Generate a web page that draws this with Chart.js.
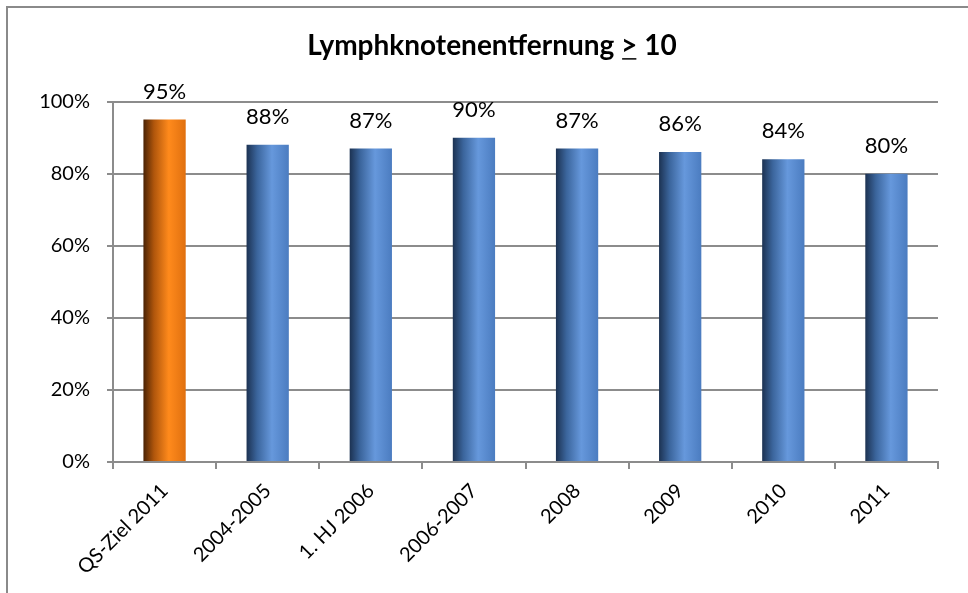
<!DOCTYPE html>
<html lang="de">
<head>
    <meta charset="UTF-8">
    <title>Lymphknotenentfernung</title>
    <script src="https://cdn.jsdelivr.net/npm/chart.js"></script>
    <style>
        body { margin: 0; background: #fff; }
        #wrap { position: relative; width: 968px; height: 593px; overflow: hidden; }
        #frame { position: absolute; left: 6px; top: 6px; width: 1000px; height: 1000px; border: 2px solid #8a8a8a; box-sizing: border-box; }
        canvas { position: absolute; left: 0; top: 0; }
    </style>
</head>
<body>
<div id="wrap">
    <div id="frame"></div>
    <canvas id="chart" width="968" height="593"></canvas>
</div>
<script>
    const categories = ['QS-Ziel 2011', '2004-2005', '1. HJ 2006', '2006-2007', '2008', '2009', '2010', '2011'];
    const values = [95, 88, 87, 90, 87, 86, 84, 80];
    const yTicks = [0, 20, 40, 60, 80, 100];

    const FONT = 'Lato, "Open Sans", sans-serif';
    const TITLE_SIZE = 28;
    const BAR_PCT = 0.41;

    // horizontal "cylinder" shading like the Excel bars
    function barFill(ctx) {
        const chart = ctx.chart;
        const x = chart.scales.x;
        const fallback = ctx.dataIndex === 0 ? '#f07a14' : '#4f81bd';
        if (!x || ctx.dataIndex === undefined) return fallback;
        const cx = x.getPixelForValue(ctx.dataIndex);
        const w = (x.width / categories.length) * BAR_PCT;
        if (!isFinite(cx) || !isFinite(w) || w <= 0) return fallback;
        const g = chart.ctx.createLinearGradient(cx - w / 2, 0, cx + w / 2, 0);
        if (ctx.dataIndex === 0) {
            g.addColorStop(0, '#4a2204');
            g.addColorStop(0.25, '#b0560c');
            g.addColorStop(0.6, '#ff8a1c');
            g.addColorStop(1, '#e0700f');
        } else {
            g.addColorStop(0, '#1c3252');
            g.addColorStop(0.25, '#3b659c');
            g.addColorStop(0.6, '#6698dc');
            g.addColorStop(1, '#4b7cc0');
        }
        return g;
    }

    const valueLabels = {
        id: 'valueLabels',
        afterDatasetsDraw(chart) {
            const c = chart.ctx;
            const meta = chart.getDatasetMeta(0);
            c.save();
            c.font = '22px ' + FONT;
            c.fillStyle = '#000';
            c.textAlign = 'center';
            c.textBaseline = 'middle';
            meta.data.forEach((bar, i) => {
                c.fillText(values[i] + '%', bar.x, bar.y - 28);
            });
            c.restore();
        }
    };

    // title is centred over the whole frame in the original, not over the plot
    const titleShift = {
        id: 'titleShift',
        afterLayout(chart) {
            const t = chart.titleBlock;
            if (!t) return;
            t.left = 16;
            t.right = chart.width;
            t.width = t.right - t.left;
        }
    };

    // underline the ">" of the title so it reads as "greater or equal"
    const titleUnderline = {
        id: 'titleUnderline',
        afterDraw(chart) {
            const t = chart.titleBlock;
            if (!t) return;
            const c = chart.ctx;
            const text = chart.options.plugins.title.text;
            c.save();
            c.font = 'bold ' + TITLE_SIZE + 'px ' + FONT;
            const full = c.measureText(text).width;
            const start = t.left + (t.width - full) / 2;
            const idx = text.indexOf('>');
            const pre = c.measureText(text.slice(0, idx)).width;
            const gw = c.measureText('>').width;
            const mid = t.top + t.options.padding.top + TITLE_SIZE * 1.2 / 2;
            const y = mid + TITLE_SIZE * 0.36 + 3;
            c.strokeStyle = '#000';
            c.lineWidth = 1.5;
            c.beginPath();
            c.moveTo(start + pre + 1, y);
            c.lineTo(start + pre + gw - 1, y);
            c.stroke();
            c.restore();
        }
    };

    new Chart(document.getElementById('chart'), {
        type: 'bar',
        data: {
            labels: categories,
            datasets: [{
                data: values,
                backgroundColor: barFill,
                borderWidth: 0,
                barPercentage: BAR_PCT,
                categoryPercentage: 1
            }]
        },
        options: {
            responsive: false,
            animation: false,
            layout: { padding: { left: 0, right: 30, top: 0, bottom: 0 } },
            plugins: {
                legend: { display: false },
                tooltip: { enabled: false },
                title: {
                    display: true,
                    text: 'Lymphknotenentfernung > 10',
                    color: '#000',
                    font: { family: FONT, size: TITLE_SIZE, weight: 'bold' },
                    padding: { top: 29, bottom: 39 }
                }
            },
            scales: {
                x: {
                    grid: { display: true, drawOnChartArea: false, color: '#8c8c8c', lineWidth: 2, tickLength: 7, offset: true },
                    border: { color: '#8c8c8c', width: 2 },
                    ticks: {
                        color: '#000',
                        font: { family: FONT, size: 20 },
                        maxRotation: 45,
                        minRotation: 45,
                        padding: 10
                    },
                    afterFit(s) { s.height = 131; }
                },
                y: {
                    min: 0,
                    max: 100,
                    afterBuildTicks(s) { s.ticks = yTicks.map(v => ({ value: v })); },
                    grid: { color: '#8c8c8c', lineWidth: 2, tickLength: 6 },
                    border: { color: '#8c8c8c', width: 2 },
                    ticks: {
                        color: '#000',
                        font: { family: FONT, size: 20 },
                        padding: 17,
                        callback: v => v + '%'
                    },
                    afterFit(s) { s.width = 113; }
                }
            }
        },
        plugins: [titleShift, valueLabels, titleUnderline]
    });
</script>
</body>
</html>
